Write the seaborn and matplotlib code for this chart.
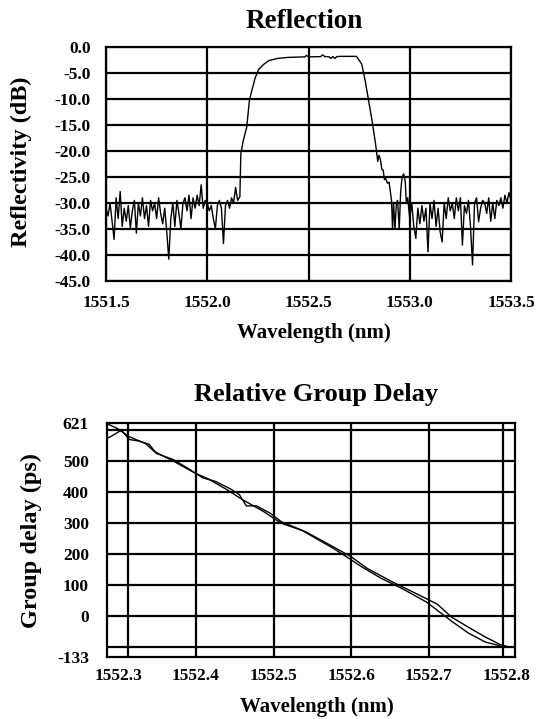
import numpy as np
import pandas as pd
import matplotlib
matplotlib.use("Agg")
import matplotlib.pyplot as plt
import seaborn as sns

# ---------------- data: reflection spectrum ----------------
refl_wl = [
    1551.50, 1551.51, 1551.52, 1551.53, 1551.54, 1551.55, 1551.56, 1551.57, 1551.58, 1551.59,
    1551.60, 1551.61, 1551.62, 1551.63, 1551.64, 1551.65, 1551.66, 1551.67, 1551.68, 1551.69,
    1551.70, 1551.71, 1551.72, 1551.73, 1551.74, 1551.75, 1551.76, 1551.77, 1551.78, 1551.79,
    1551.80, 1551.81, 1551.82, 1551.83, 1551.84, 1551.85, 1551.86, 1551.87, 1551.88, 1551.89,
    1551.90, 1551.91, 1551.92, 1551.93, 1551.94, 1551.95, 1551.96, 1551.97, 1551.98, 1551.99,
    1552.00, 1552.01, 1552.02, 1552.03, 1552.04, 1552.05, 1552.06, 1552.07, 1552.08, 1552.09,
    1552.10, 1552.11, 1552.12, 1552.13, 1552.14, 1552.15,
    1552.161, 1552.166, 1552.178, 1552.195, 1552.208, 1552.220, 1552.237, 1552.254, 1552.280,
    1552.305, 1552.347, 1552.398, 1552.483, 1552.490, 1552.500, 1552.560, 1552.570, 1552.580,
    1552.600, 1552.610, 1552.620, 1552.630, 1552.640, 1552.660, 1552.737, 1552.763, 1552.780,
    1552.797, 1552.814, 1552.831, 1552.842, 1552.848, 1552.856, 1552.862, 1552.869, 1552.875,
    1552.881, 1552.890, 1552.898, 1552.910, 1552.915, 1552.920, 1552.927, 1552.934, 1552.940,
    1552.948, 1552.955, 1552.962, 1552.970, 1552.978, 1552.983,
    1552.99, 1553.00, 1553.01, 1553.02, 1553.03, 1553.04, 1553.05, 1553.06, 1553.07, 1553.08,
    1553.09, 1553.10, 1553.11, 1553.12, 1553.13, 1553.14, 1553.15, 1553.16, 1553.17, 1553.18,
    1553.19, 1553.20, 1553.21, 1553.22, 1553.23, 1553.24, 1553.25, 1553.26, 1553.27, 1553.28,
    1553.29, 1553.30, 1553.31, 1553.32, 1553.33, 1553.34, 1553.35, 1553.36, 1553.37, 1553.38,
    1553.39, 1553.40, 1553.41, 1553.42, 1553.43, 1553.44, 1553.45, 1553.46, 1553.47, 1553.48,
    1553.49, 1553.50,
]
refl_db = [
    -31.0, -32.5, -30.0, -33.5, -37.0, -29.0, -33.0, -27.8, -34.5, -31.0,
    -33.5, -30.5, -34.8, -31.5, -29.5, -35.8, -30.0, -32.5, -29.0, -33.0,
    -30.5, -34.5, -29.5, -31.5, -30.0, -33.0, -29.0, -32.0, -34.0, -31.0,
    -35.5, -40.8, -33.0, -30.0, -34.5, -29.5, -32.0, -35.0, -30.0, -29.0,
    -31.5, -28.5, -33.0, -29.0, -31.0, -28.5, -30.5, -26.5, -31.0, -29.5,
    -30.0, -31.5, -30.5, -33.0, -35.0, -30.5, -29.5, -31.0, -37.8, -30.5,
    -29.5, -31.0, -29.0, -30.0, -27.0, -29.5,
    -28.8, -20.5, -18.0, -15.4, -10.3, -8.4, -5.9, -4.3, -3.3,
    -2.6, -2.2, -2.0, -1.9, -1.6, -1.9, -1.85, -1.5, -1.85,
    -1.85, -2.2, -1.85, -2.2, -1.85, -1.8, -1.8, -3.3, -6.5,
    -10.3, -14.2, -18.6, -22.0, -20.8, -21.8, -23.5, -23.7, -25.5,
    -25.3, -26.2, -26.0, -29.5, -35.0, -30.0, -35.0, -30.0, -29.5,
    -35.0, -28.0, -25.0, -24.4, -26.0, -30.0,
    -29.0, -33.0, -30.0, -34.5, -36.8, -31.0, -34.0, -30.5, -33.5, -31.0,
    -39.4, -30.0, -33.0, -29.5, -34.5, -31.0, -35.5, -37.5, -30.0, -33.0,
    -29.0, -31.5, -30.0, -33.0, -29.0, -31.5, -29.0, -38.1, -30.5, -32.0,
    -29.5, -34.5, -41.9, -30.0, -29.0, -33.6, -31.0, -29.5, -30.0, -32.0,
    -29.0, -33.5, -30.0, -33.0, -29.5, -30.5, -29.0, -31.0, -28.5, -30.0,
    -28.0, -29.5,
]

refl_xticks = [1551.5, 1552.0, 1552.5, 1553.0, 1553.5]
refl_xticklabels = ["1551.5", "1552.0", "1552.5", "1553.0", "1553.5"]
refl_yticks = [0, -5, -10, -15, -20, -25, -30, -35, -40, -45]
refl_yticklabels = ["0.0", "-5.0", "-10.0", "-15.0", "-20.0", "-25.0", "-30.0", "-35.0", "-40.0", "-45.0"]

# ---------------- data: relative group delay ----------------
gd_wl_1 = [1552.287, 1552.299, 1552.314, 1552.335, 1552.346, 1552.371, 1552.400, 1552.416,
           1552.440, 1552.460, 1552.487, 1552.510, 1552.541, 1552.577, 1552.600, 1552.621,
           1552.653, 1552.684, 1552.711, 1552.729, 1552.751, 1552.773, 1552.792, 1552.805]
gd_ps_1 = [617, 603, 577, 555, 530, 498, 458, 441,
           406, 374, 336, 298, 271, 222, 190, 152,
           109, 71, 37, -4, -37, -69, -93, -102]
gd_wl_2 = [1552.287, 1552.295, 1552.304, 1552.314, 1552.326, 1552.340, 1552.349, 1552.371,
           1552.391, 1552.409, 1552.425, 1552.445, 1552.456, 1552.465, 1552.478, 1552.496,
           1552.510, 1552.536, 1552.545, 1552.577, 1552.594, 1552.612, 1552.639, 1552.666,
           1552.697, 1552.729, 1552.751, 1552.773, 1552.792]
gd_ps_2 = [573, 584, 598, 568, 563, 552, 523, 503,
           473, 444, 433, 408, 390, 354, 354, 330,
           303, 276, 263, 217, 190, 160, 120, 87,
           44, -17, -56, -85, -97]

gd_xticks = [1552.3, 1552.4, 1552.5, 1552.6, 1552.7, 1552.8]
gd_xticklabels = ["1552.3", "1552.4", "1552.5", "1552.6", "1552.7", "1552.8"]
gd_xgrid = [1552.313, 1552.4, 1552.5, 1552.6, 1552.7, 1552.796]
gd_yticks = [-133, 0, 100, 200, 300, 400, 500, 621]
gd_yticklabels = ["-133", "0", "100", "200", "300", "400", "500", "621"]
gd_ygrid = [-100, 0, 100, 200, 300, 400, 500, 600]

# ---------------- styling ----------------
sns.set_style("white")
plt.rcParams["font.family"] = ["Liberation Serif", "DejaVu Serif"]
plt.rcParams["font.weight"] = "bold"
plt.rcParams["text.color"] = "black"
plt.rcParams["xtick.color"] = "black"
plt.rcParams["ytick.color"] = "black"

W, H = 545, 719
fig = plt.figure(figsize=(W / 100, H / 100), dpi=100)

def axes_px(l, t, r, b):
    return fig.add_axes([l / W, 1 - b / H, (r - l) / W, (b - t) / H])

ax1 = axes_px(106, 47, 511, 281)
ax2 = axes_px(107, 423, 515, 657)

GRID_LW = 1.6
TICK_FS = 12.5

# --- Reflection ---
df1 = pd.DataFrame({"wl": refl_wl, "db": refl_db})
sns.lineplot(data=df1, x="wl", y="db", ax=ax1, color="black", linewidth=1.0,
             estimator=None, sort=False)
ax1.set_xlim(1551.5, 1553.5)
ax1.set_ylim(-45, 0)
ax1.set_xticks(refl_xticks)
ax1.set_xticklabels(refl_xticklabels, fontsize=TICK_FS, fontweight="bold", color="black")
ax1.set_yticks(refl_yticks)
ax1.set_yticklabels(refl_yticklabels, fontsize=TICK_FS, fontweight="bold", color="black")
ax1.grid(True, which="major", color="black", linewidth=GRID_LW)
ax1.tick_params(axis="both", length=0)
ax1.tick_params(axis="y", pad=11)
ax1.tick_params(axis="x", pad=10)
ax1.set_xlabel("")
ax1.set_ylabel("")
ax1.set_axisbelow(True)

# --- Group delay ---
df2 = pd.concat([
    pd.DataFrame({"wl": gd_wl_1, "ps": gd_ps_1, "trace": "a"}),
    pd.DataFrame({"wl": gd_wl_2, "ps": gd_ps_2, "trace": "b"}),
])
sns.lineplot(data=df2, x="wl", y="ps", hue="trace", ax=ax2,
             palette=["black", "black"], linewidth=1.0, estimator=None,
             sort=False, legend=False)
ax2.set_xlim(1552.2855, 1552.811)
ax2.set_ylim(-133, 621)
ax2.set_xticks(gd_xticks)
ax2.set_xticklabels(gd_xticklabels, fontsize=TICK_FS, fontweight="bold", color="black")
ax2.set_yticks(gd_yticks)
ax2.set_yticklabels(gd_yticklabels, fontsize=TICK_FS, fontweight="bold", color="black")
ax2.grid(False)
for gx in gd_xgrid:
    ax2.axvline(gx, color="black", linewidth=GRID_LW, zorder=0.5)
for gy in gd_ygrid:
    ax2.axhline(gy, color="black", linewidth=GRID_LW, zorder=0.5)
ax2.tick_params(axis="both", which="both", length=0)
ax2.tick_params(axis="y", pad=13)
ax2.tick_params(axis="x", pad=8)
ax2.set_xlabel("")
ax2.set_ylabel("")

for ax in (ax1, ax2):
    for s in ax.spines.values():
        s.set_color("black")
        s.set_linewidth(GRID_LW)
        s.set_visible(True)

# --- titles and axis labels ---
fig.text(304 / W, 1 - 22 / H, "Reflection", ha="center", va="center",
         fontsize=19.5, fontweight="bold")
fig.text(314 / W, 1 - 333 / H, "Wavelength (nm)", ha="center", va="center",
         fontsize=15, fontweight="bold")
fig.text(21 / W, 1 - 162 / H, "Reflectivity (dB)", ha="center", va="center",
         rotation=90, fontsize=17.5, fontweight="bold")

fig.text(316 / W, 1 - 395 / H, "Relative Group Delay", ha="center", va="center",
         fontsize=19, fontweight="bold")
fig.text(317 / W, 1 - 707 / H, "Wavelength (nm)", ha="center", va="center",
         fontsize=15, fontweight="bold")
fig.text(31 / W, 1 - 540 / H, "Group delay (ps)", ha="center", va="center",
         rotation=90, fontsize=17.5, fontweight="bold")

fig.savefig("out.png", dpi=100, facecolor="white")
